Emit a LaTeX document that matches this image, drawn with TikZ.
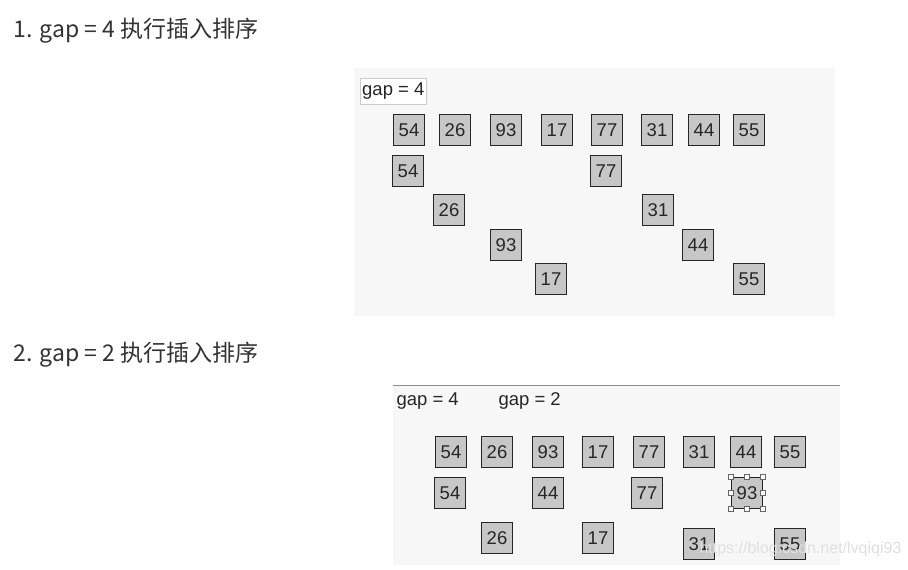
\documentclass[tikz,border=0pt]{standalone}
\usepackage{fontspec}
\setmainfont{Liberation Sans}
\newfontfamily\cjk{Noto Sans CJK SC}
\begin{document}
\begin{tikzpicture}[x=1pt,y=-1pt,
  nb/.style={draw=black!85,line width=1.3pt,fill=black!22,minimum width=31pt,minimum height=31pt,inner sep=0pt,font=\fontsize{18.5}{18.5}\selectfont,text=black!85},
  hd/.style={anchor=west,font=\cjk\fontsize{23}{23}\selectfont,text=black!80},
  lb/.style={anchor=west,font=\fontsize{18.5}{18.5}\selectfont,text=black!85},
  hdl/.style={draw=black!60,fill=white,minimum size=5pt,inner sep=0pt}]
\useasboundingbox (0,0) rectangle (908,570);
\fill[white] (0,0) rectangle (908,570);
\node[hd] (h1) at (10,31) {1. gap = 4 执行插入排序};
\node[hd] (h2) at (10,355) {2. gap = 2 执行插入排序};
% panel 1
\fill[black!3] (354,68) rectangle (835,316);
\node[lb,draw=black!20,fill=white,inner sep=2pt,minimum height=26pt] (g1) at (360,91) {gap = 4};
\foreach \v/\x [count=\i] in {54/409,26/455,93/506,17/557,77/607,31/657,44/704,55/749}
  \node[nb] (a\i) at (\x,130) {\v};
\node[nb] (b1) at (408,171) {54};
\node[nb] (b2) at (606,171) {77};
\node[nb] (b3) at (449,210) {26};
\node[nb] (b4) at (658,210) {31};
\node[nb] (b5) at (506,245) {93};
\node[nb] (b6) at (698,245) {44};
\node[nb] (b7) at (551,279) {17};
\node[nb] (b8) at (749,279) {55};
% panel 2
\fill[black!3] (393,385) rectangle (840,565);
\draw[black!45,line width=1pt] (393,385) -- (840,385);
\node[lb] (g2) at (393,401) {gap = 4};
\node[lb] (g3) at (495,401) {gap = 2};
\foreach \v/\x [count=\i] in {54/451,26/497,93/548,17/598,77/649,31/699,44/746,55/790}
  \node[nb] (c\i) at (\x,452) {\v};
\node[nb] (d1) at (450,493) {54};
\node[nb] (d2) at (548,493) {44};
\node[nb] (d3) at (647,493) {77};
\node[nb] (d4) at (747,493) {93};
\foreach \a in {north west,north,north east,east,south east,south,south west,west}
  \node[hdl] (hh\a) at (d4.\a) {};
\node[nb] (e1) at (497,538) {26};
\node[nb] (e2) at (598,538) {17};
\node[nb] (e3) at (699,544) {31};
\node[nb] (e4) at (790,544) {55};
\node[anchor=west,font=\fontsize{16}{16}\selectfont,text=black!12] (wm) at (696,549) {https://blog.csdn.net/lvqiqi93};
\end{tikzpicture}
\end{document}
